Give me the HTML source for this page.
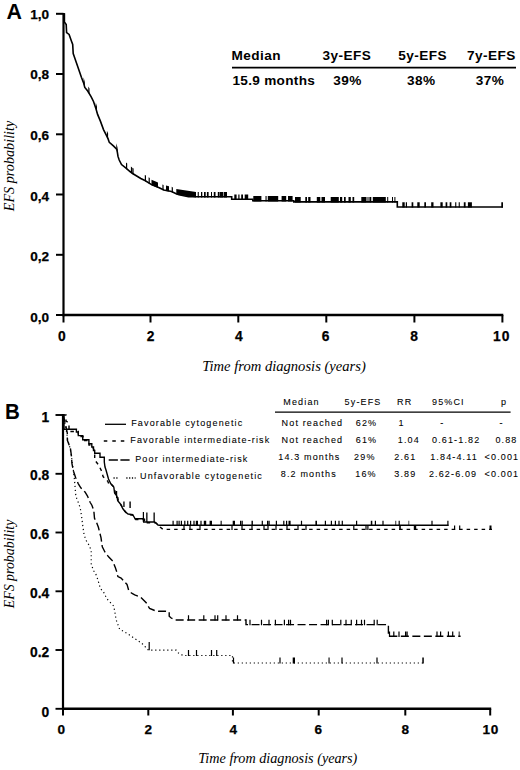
<!DOCTYPE html><html><head><meta charset="utf-8"><style>html,body{margin:0;padding:0;background:#fff;overflow:hidden}svg{display:block}.b{font-family:"Liberation Sans",sans-serif;font-weight:bold;fill:#000}.bs{stroke:#000;stroke-width:0.25px}.s{font-family:"Liberation Sans",sans-serif;fill:#000;stroke:#000;stroke-width:0.08px;font-size:9px;letter-spacing:1.15px}.i{font-family:"Liberation Serif",serif;font-style:italic;fill:#000}</style></head><body>
<svg width="520" height="770" viewBox="0 0 520 770">
<text class="b" x="6.6" y="18.5" font-size="21.4">A</text>
<path d="M63.5 13.0 V316.2" stroke="#000" stroke-width="2.2" fill="none"/>
<path d="M62.5 315.0 H503.3" stroke="#000" stroke-width="2.4" fill="none"/>
<path d="M56 13.8 H63.5" stroke="#000" stroke-width="2" fill="none"/>
<text class="b bs" x="49.2" y="19.0" font-size="13.6" text-anchor="end">1,0</text>
<path d="M56 74.0 H63.5" stroke="#000" stroke-width="2" fill="none"/>
<text class="b bs" x="49.2" y="78.9" font-size="13.6" text-anchor="end">0,8</text>
<path d="M56 134.3 H63.5" stroke="#000" stroke-width="2" fill="none"/>
<text class="b bs" x="49.2" y="140.0" font-size="13.6" text-anchor="end">0,6</text>
<path d="M56 194.5 H63.5" stroke="#000" stroke-width="2" fill="none"/>
<text class="b bs" x="49.2" y="200.5" font-size="13.6" text-anchor="end">0,4</text>
<path d="M56 254.8 H63.5" stroke="#000" stroke-width="2" fill="none"/>
<text class="b bs" x="49.2" y="260.7" font-size="13.6" text-anchor="end">0,2</text>
<path d="M56 315.0 H63.5" stroke="#000" stroke-width="2" fill="none"/>
<text class="b bs" x="49.2" y="321.6" font-size="13.6" text-anchor="end">0,0</text>
<path d="M63.5 315.0 V322.5" stroke="#000" stroke-width="2" fill="none"/>
<text class="b bs" x="61.8" y="340.6" font-size="13.8" text-anchor="middle" letter-spacing="0">0</text>
<path d="M150.5 315.0 V322.5" stroke="#000" stroke-width="2" fill="none"/>
<text class="b bs" x="150.5" y="340.6" font-size="13.8" text-anchor="middle" letter-spacing="0">2</text>
<path d="M238.3 315.0 V322.5" stroke="#000" stroke-width="2" fill="none"/>
<text class="b bs" x="238.9" y="340.6" font-size="13.8" text-anchor="middle" letter-spacing="0">4</text>
<path d="M326.3 315.0 V322.5" stroke="#000" stroke-width="2" fill="none"/>
<text class="b bs" x="325.5" y="340.6" font-size="13.8" text-anchor="middle" letter-spacing="0">6</text>
<path d="M414.4 315.0 V322.5" stroke="#000" stroke-width="2" fill="none"/>
<text class="b bs" x="414.2" y="340.6" font-size="13.8" text-anchor="middle" letter-spacing="0">8</text>
<path d="M502.4 315.0 V322.5" stroke="#000" stroke-width="2" fill="none"/>
<text class="b bs" x="501.8" y="340.6" font-size="13.8" text-anchor="middle" letter-spacing="1.0">10</text>
<text class="i" x="284" y="370.7" font-size="14.6" text-anchor="middle">Time from diagnosis (years)</text>
<text class="i" transform="translate(14.3 166) rotate(-90)" font-size="14.2" text-anchor="middle">EFS probability</text>
<text class="b" x="231.5" y="60.4" font-size="13.6" letter-spacing="0.45">Median</text>
<text class="b" x="322.5" y="60.4" font-size="13.6" letter-spacing="0.45">3y-EFS</text>
<text class="b" x="398.3" y="60.4" font-size="13.6" letter-spacing="0.45">5y-EFS</text>
<text class="b" x="467" y="60.4" font-size="13.6" letter-spacing="0.45">7y-EFS</text>
<path d="M232 67.7 H516" stroke="#000" stroke-width="1.7"/>
<text class="b" x="232.5" y="85" font-size="13.6" letter-spacing="0.3">15.9 months</text>
<text class="b" x="333.3" y="85" font-size="13.6" letter-spacing="0.45">39%</text>
<text class="b" x="407" y="85" font-size="13.6" letter-spacing="0.45">38%</text>
<text class="b" x="475.8" y="85" font-size="13.6" letter-spacing="0.45">37%</text>
<path d="M63.5 13.8 L64.4 14.0 L64.4 22.0 L66.2 24.5 L66.6 32.5 L69.1 34.5 L71.4 40.9 L72.7 44.5 L73.2 53.6 L74.5 57.3 L76.4 62.7 L77.7 66.4 L79.5 71.8 L81.4 77.3 L83.6 82.9 L84.8 87.5 L87.7 91.0 L91.2 96.9 L93.5 101.5 L95.9 108.5 L97.6 114.4 L100.5 121.4 L103.5 129.6 L106.4 135.4 L108.1 138.9 L109.3 142.4 L113.4 145.9 L116.9 149.4 L118.0 156.4 L119.2 160.0 L121.5 164.6 L125.4 167.7 L130.0 171.5 L133.0 173.8 L140.8 178.5 L145.4 180.8 L151.5 184.6 L159.2 187.7 L163.8 190.0 L171.5 191.5 L176.2 193.8 L179.0 194.8 L188.5 196.8 L231.7 196.8 L231.7 199.2 L252.8 199.2 L252.8 200.8 L293.8 200.8 L293.8 201.9 L397.3 201.9 L397.3 207.0 L503.0 207.0" stroke="#000" stroke-width="1.6" fill="none" stroke-linejoin="miter"/>
<path d="M83.6 77.3L84.8 81.9L84.8 88.1L83.6 83.5ZM88.3 86.4L89.5 88.4L89.5 94.6L88.3 92.6ZM95.8 102.6L97.0 106.7L97.0 112.9L95.8 108.8ZM106.9 130.8L108.1 133.3L108.1 139.5L106.9 137.0ZM116.3 143.2L117.5 147.6L117.5 153.8L116.3 149.4ZM126.0 162.6L127.2 163.6L127.2 169.8L126.0 168.8ZM130.9 166.6L132.1 167.5L132.1 173.7L130.9 172.8ZM132.4 167.7L133.6 168.6L133.6 174.8L132.4 173.9ZM144.8 174.9L146.0 175.6L146.0 181.8L144.8 181.1ZM148.6 177.2L149.8 177.9L149.8 184.1L148.6 183.4ZM151.5 179.8L158.0 182.4L158.0 187.8L151.5 185.2ZM162.4 184.5L163.6 185.1L163.6 190.5L162.4 189.9ZM166.0 185.6L169.0 186.2L169.0 191.6L166.0 191.0ZM171.7 186.8L172.9 187.4L172.9 192.8L171.7 192.2ZM176.3 189.0L196.0 192.0L196.0 197.4L176.3 194.4ZM197.7 192.0L198.8 192.0L198.8 197.4L197.7 197.4ZM201.0 192.0L202.3 192.0L202.3 197.4L201.0 197.4ZM204.0 192.0L205.7 192.0L205.7 197.4L204.0 197.4ZM206.9 192.0L208.6 192.0L208.6 197.4L206.9 197.4ZM211.0 192.0L212.0 192.0L212.0 197.4L211.0 197.4ZM213.8 192.0L215.5 192.0L215.5 197.4L213.8 197.4ZM217.8 192.0L219.6 192.0L219.6 197.4L217.8 197.4ZM220.0 192.0L223.0 192.0L223.0 197.4L220.0 197.4ZM223.6 192.0L227.0 192.0L227.0 197.4L223.6 197.4ZM234.3 194.4L236.6 194.4L236.6 199.8L234.3 199.8ZM238.3 194.4L239.5 194.4L239.5 199.8L238.3 199.8ZM241.2 194.4L243.0 194.4L243.0 199.8L241.2 199.8ZM244.7 194.4L248.2 194.4L248.2 199.8L244.7 199.8ZM253.3 196.0L261.4 196.0L261.4 201.4L253.3 201.4ZM265.5 196.0L266.6 196.0L266.6 201.4L265.5 201.4ZM267.8 196.0L278.2 196.0L278.2 201.4L267.8 201.4ZM281.6 196.0L286.2 196.0L286.2 201.4L281.6 201.4ZM288.0 196.0L292.6 196.0L292.6 201.4L288.0 201.4ZM295.0 197.1L300.7 197.1L300.7 202.5L295.0 202.5ZM305.3 197.1L307.0 197.1L307.0 202.5L305.3 202.5ZM308.2 197.1L310.5 197.1L310.5 202.5L308.2 202.5ZM316.8 197.1L320.3 197.1L320.3 202.5L316.8 202.5ZM321.5 197.1L325.0 197.1L325.0 202.5L321.5 202.5ZM330.7 197.1L338.8 197.1L338.8 202.5L330.7 202.5ZM340.0 197.1L342.2 197.1L342.2 202.5L340.0 202.5ZM344.0 197.1L345.7 197.1L345.7 202.5L344.0 202.5ZM348.5 197.1L350.8 197.1L350.8 202.5L348.5 202.5ZM352.5 197.1L354.2 197.1L354.2 202.5L352.5 202.5ZM361.3 197.1L366.5 197.1L366.5 202.5L361.3 202.5ZM367.5 197.1L368.5 197.1L368.5 202.5L367.5 202.5ZM369.4 197.1L371.3 197.1L371.3 202.5L369.4 202.5ZM372.8 197.1L385.8 197.1L385.8 202.5L372.8 202.5ZM387.2 197.1L388.2 197.1L388.2 202.5L387.2 202.5ZM392.0 197.1L393.0 197.1L393.0 202.5L392.0 202.5ZM394.4 197.1L395.4 197.1L395.4 202.5L394.4 202.5ZM402.3 202.2L404.7 202.2L404.7 207.6L402.3 207.6ZM405.8 202.2L407.0 202.2L407.0 207.6L405.8 207.6ZM411.6 202.2L413.3 202.2L413.3 207.6L411.6 207.6ZM417.3 202.2L419.7 202.2L419.7 207.6L417.3 207.6ZM424.3 202.2L426.0 202.2L426.0 207.6L424.3 207.6ZM431.2 202.2L433.5 202.2L433.5 207.6L431.2 207.6ZM440.4 202.2L442.7 202.2L442.7 207.6L440.4 207.6ZM445.6 202.2L447.3 202.2L447.3 207.6L445.6 207.6ZM449.7 202.2L451.4 202.2L451.4 207.6L449.7 207.6ZM455.2 202.2L456.3 202.2L456.3 207.6L455.2 207.6ZM458.7 202.2L459.8 202.2L459.8 207.6L458.7 207.6ZM463.8 202.2L465.6 202.2L465.6 207.6L463.8 207.6ZM467.9 202.2L471.9 202.2L471.9 207.6L467.9 207.6ZM501.3 202.2L503.0 202.2L503.0 207.6L501.3 207.6Z" fill="#000"/>
<text class="b" x="5.0" y="418.5" font-size="22" textLength="14.8" lengthAdjust="spacingAndGlyphs">B</text>
<path d="M63.0 414.0 V710.0" stroke="#000" stroke-width="2.2" fill="none"/>
<path d="M62.0 708.8 H491.2" stroke="#000" stroke-width="2.4" fill="none"/>
<path d="M55.5 415.0 H63.0" stroke="#000" stroke-width="1.9" fill="none"/>
<text class="b bs" x="49.2" y="421.5" font-size="13.8" text-anchor="end">1</text>
<path d="M55.5 473.8 H63.0" stroke="#000" stroke-width="1.9" fill="none"/>
<text class="b bs" x="49.2" y="480.3" font-size="13.8" text-anchor="end">0.8</text>
<path d="M55.5 532.5 H63.0" stroke="#000" stroke-width="1.9" fill="none"/>
<text class="b bs" x="49.2" y="539.3" font-size="13.8" text-anchor="end">0.6</text>
<path d="M55.5 591.3 H63.0" stroke="#000" stroke-width="1.9" fill="none"/>
<text class="b bs" x="49.2" y="598.1" font-size="13.8" text-anchor="end">0.4</text>
<path d="M55.5 650.0 H63.0" stroke="#000" stroke-width="1.9" fill="none"/>
<text class="b bs" x="49.2" y="656.8" font-size="13.8" text-anchor="end">0.2</text>
<path d="M55.5 708.8 H63.0" stroke="#000" stroke-width="1.9" fill="none"/>
<text class="b bs" x="49.2" y="716.7" font-size="13.8" text-anchor="end">0</text>
<path d="M63.0 708.8 V715.5" stroke="#000" stroke-width="2" fill="none"/>
<text class="b bs" x="61.2" y="733.7" font-size="13.6" text-anchor="middle" letter-spacing="0">0</text>
<path d="M148.3 708.8 V715.5" stroke="#000" stroke-width="2" fill="none"/>
<text class="b bs" x="148.4" y="733.7" font-size="13.6" text-anchor="middle" letter-spacing="0">2</text>
<path d="M232.9 708.8 V715.5" stroke="#000" stroke-width="2" fill="none"/>
<text class="b bs" x="233.4" y="733.7" font-size="13.6" text-anchor="middle" letter-spacing="0">4</text>
<path d="M318.7 708.8 V715.5" stroke="#000" stroke-width="2" fill="none"/>
<text class="b bs" x="318.3" y="733.7" font-size="13.6" text-anchor="middle" letter-spacing="0">6</text>
<path d="M405.3 708.8 V715.5" stroke="#000" stroke-width="2" fill="none"/>
<text class="b bs" x="405.2" y="733.7" font-size="13.6" text-anchor="middle" letter-spacing="0">8</text>
<path d="M490.2 708.8 V715.5" stroke="#000" stroke-width="2" fill="none"/>
<text class="b bs" x="490.8" y="733.7" font-size="13.6" text-anchor="middle" letter-spacing="0.8">10</text>
<text class="i" x="277.8" y="763.2" font-size="14.2" text-anchor="middle">Time from diagnosis (years)</text>
<text class="i" transform="translate(14.3 564) rotate(-90)" font-size="13.9" text-anchor="middle">EFS probability</text>
<path d="M105 424.3 H126" stroke="#000" stroke-width="1.3"/>
<text class="s" x="131.2" y="426.0">Favorable cytogenetic</text>
<path d="M103.8 441.0 H126" stroke="#000" stroke-width="1.3" stroke-dasharray="3.5 5"/>
<text class="s" x="130.3" y="442.8">Favorable intermediate-risk</text>
<path d="M108.7 460.0 H130.3" stroke="#000" stroke-width="1.3" stroke-dasharray="9.2 2.5"/>
<text class="s" x="135.2" y="461.8">Poor intermediate-risk</text>
<path d="M113.5 478.0 H119 M126.3 478.0 H135.6" stroke="#000" stroke-width="1.3" stroke-dasharray="1.2 1.6"/>
<text class="s" x="140.0" y="478.8">Unfavorable cytogenetic</text>
<text class="s" x="283.3" y="404.5">Median</text>
<text class="s" x="344.6" y="404.5">5y-EFS</text>
<text class="s" x="397" y="404.5">RR</text>
<text class="s" x="432" y="404.5">95%CI</text>
<text class="s" x="501" y="404.5">p</text>
<text class="s" x="281.6" y="426.2">Not reached</text>
<text class="s" x="355.8" y="426.2">62%</text>
<text class="s" x="398.5" y="426.2">1</text>
<text class="s" x="440.3" y="426.2">-</text>
<text class="s" x="499.5" y="426.2">-</text>
<text class="s" x="281.6" y="442.6">Not reached</text>
<text class="s" x="355.8" y="442.6">61%</text>
<text class="s" x="397.8" y="442.6">1.04</text>
<text class="s" x="432" y="442.6">0.61-1.82</text>
<text class="s" x="495.4" y="442.6">0.88</text>
<text class="s" x="278.3" y="460.0">14.3 months</text>
<text class="s" x="354.1" y="460.0">29%</text>
<text class="s" x="394.3" y="460.0">2.61</text>
<text class="s" x="430.2" y="460.0">1.84-4.11</text>
<text class="s" x="484.6" y="460.0">&lt;0.001</text>
<text class="s" x="280.8" y="477.0">8.2 months</text>
<text class="s" x="355.3" y="477.0">16%</text>
<text class="s" x="394.3" y="477.0">3.89</text>
<text class="s" x="428.9" y="477.0">2.62-6.09</text>
<text class="s" x="484.6" y="477.0">&lt;0.001</text>
<path d="M275 412.2 H510.6" stroke="#000" stroke-width="1.3"/>
<path d="M63.0 415.0 L64.0 415.0 L64.0 429.3 L76.4 429.3 L76.4 432.0 L78.3 432.0 L78.3 435.6 L82.7 435.6 L82.7 439.7 L88.9 439.7 L88.9 443.7 L91.8 443.7 L91.8 447.0 L93.5 447.0 L93.5 450.5 L94.7 450.5 L94.7 453.3 L100.0 453.3 L100.0 457.2 L104.3 457.2 L104.3 462.0 L105.0 467.0 L106.0 470.0 L108.5 479.0 L110.8 483.8 L113.8 487.0 L114.6 493.0 L116.9 496.2 L117.7 500.8 L120.0 503.5 L121.7 506.5 L122.9 508.8 L125.2 511.7 L128.1 514.0 L132.7 514.6 L134.4 517.5 L135.0 518.7 L143.7 518.7 L143.7 522.0 L154.6 522.0 L155.8 522.7 L158.0 525.0 L159.8 525.3 L448.5 525.3" stroke="#000" stroke-width="1.4" fill="none"/>
<path d="M63.0 415.0 L66.0 415.0 L66.0 421.0 L69.0 423.0 L69.0 431.5 L78.3 431.5 L78.3 436.5 L83.0 436.5 L83.0 440.5 L89.0 440.5 L89.0 445.0 L92.0 445.0 L94.7 452.0 L94.7 460.0 L98.4 464.7 L101.6 471.0 L103.1 476.6 L107.8 481.3 L109.4 485.5 L111.6 484.6 L114.6 487.8 L115.4 493.8 L117.7 497.0 L118.5 501.6 L120.8 504.3 L122.5 507.3 L123.7 509.6 L126.0 512.5 L128.9 514.8 L133.5 515.4 L135.2 518.3 L135.8 519.5 L144.5 519.5 L144.5 522.8 L155.4 522.8 L156.6 523.5 L160.0 527.0 L163.0 529.4 L492.0 529.4" stroke="#000" stroke-width="1.4" fill="none" stroke-dasharray="3.5 4"/>
<path d="M63.0 415.0 L65.0 422.0 L67.3 433.0 L67.3 440.0 L70.4 448.3 L71.4 455.6 L72.0 463.9 L73.5 471.2 L75.6 477.4 L78.2 483.6 L80.8 487.8 L85.0 492.0 L87.5 496.1 L90.1 502.3 L91.9 505.2 L93.8 510.4 L94.5 518.2 L96.4 522.0 L98.4 527.3 L99.7 532.5 L101.0 537.7 L102.3 546.8 L104.9 552.0 L108.8 557.1 L112.7 561.0 L115.3 567.5 L116.6 571.4 L117.9 576.6 L121.1 578.0 L124.4 581.8 L127.0 584.4 L128.9 591.0 L132.1 593.5 L134.7 594.8 L140.4 597.0 L146.2 602.7 L149.6 608.5 L155.4 610.8 L158.7 611.3 L165.4 611.3 L169.2 612.0 L169.2 616.2 L171.2 618.0 L175.0 620.0 L246.0 620.0 L246.0 624.6 L388.4 624.6 L388.4 636.3 L460.6 636.3" stroke="#000" stroke-width="1.4" fill="none" stroke-dasharray="8 3.5"/>
<path d="M63.0 415.0 L64.0 420.0 L66.0 428.0 L67.0 435.0 L68.0 441.0 L70.0 448.0 L71.4 455.6 L72.3 463.9 L73.5 471.2 L74.5 480.0 L75.6 494.0 L76.6 498.2 L78.2 502.3 L80.2 507.8 L81.5 515.6 L82.8 526.0 L84.1 535.0 L86.7 541.6 L89.3 545.5 L91.2 550.6 L91.2 563.6 L93.2 570.1 L95.8 574.0 L97.7 579.2 L100.3 588.3 L103.6 592.2 L106.8 598.7 L113.8 606.2 L116.2 620.0 L119.6 629.2 L127.7 633.8 L134.6 638.5 L141.5 643.0 L148.5 650.2 L176.2 650.2 L178.5 653.0 L183.0 655.5 L232.5 655.5 L232.5 663.0 L424.2 663.0" stroke="#000" stroke-width="1.2" fill="none" stroke-dasharray="1.2 2.8"/>
<path d="M116.0 491.0H117.2V497.9H116.0ZM142.8 512.0H144.0V522.0H142.8ZM146.2 512.5H147.5V522.0H146.2ZM153.5 512.5H154.8V522.1H153.5ZM172.5 520.8L173.7 520.8L173.7 525.9L172.5 525.9ZM176.5 520.8L177.7 520.8L177.7 525.9L176.5 525.9ZM178.5 520.8L179.7 520.8L179.7 525.9L178.5 525.9ZM180.8 520.8L182.0 520.8L182.0 525.9L180.8 525.9ZM184.2 520.8L185.4 520.8L185.4 525.9L184.2 525.9ZM187.1 520.8L188.3 520.8L188.3 525.9L187.1 525.9ZM190.0 520.8L191.2 520.8L191.2 525.9L190.0 525.9ZM193.4 520.8L194.6 520.8L194.6 525.9L193.4 525.9ZM195.8 520.8L198.0 520.8L198.0 525.9L195.8 525.9ZM200.4 520.8L201.6 520.8L201.6 525.9L200.4 525.9ZM203.8 520.8L206.2 520.8L206.2 525.9L203.8 525.9ZM209.6 520.8L212.0 520.8L212.0 525.9L209.6 525.9ZM220.6 520.8L221.7 520.8L221.7 525.9L220.6 525.9ZM232.7 520.8L235.0 520.8L235.0 525.9L232.7 525.9ZM240.0 520.8L241.2 520.8L241.2 525.9L240.0 525.9ZM241.6 520.8L242.8 520.8L242.8 525.9L241.6 525.9ZM251.5 520.8L252.9 520.8L252.9 525.9L251.5 525.9ZM261.7 520.8L262.9 520.8L262.9 525.9L261.7 525.9ZM267.0 520.8L268.2 520.8L268.2 525.9L267.0 525.9ZM268.5 520.8L269.7 520.8L269.7 525.9L268.5 525.9ZM275.8 520.8L277.0 520.8L277.0 525.9L275.8 525.9ZM283.2 520.8L284.4 520.8L284.4 525.9L283.2 525.9ZM286.0 520.8L287.2 520.8L287.2 525.9L286.0 525.9ZM288.5 520.8L290.6 520.8L290.6 525.9L288.5 525.9ZM300.9 520.8L302.1 520.8L302.1 525.9L300.9 525.9ZM315.4 520.8L317.0 520.8L317.0 525.9L315.4 525.9ZM324.8 520.8L326.0 520.8L326.0 525.9L324.8 525.9ZM330.8 520.8L332.0 520.8L332.0 525.9L330.8 525.9ZM334.8 520.8L336.0 520.8L336.0 525.9L334.8 525.9ZM338.4 520.8L339.6 520.8L339.6 525.9L338.4 525.9ZM341.7 520.8L342.9 520.8L342.9 525.9L341.7 525.9ZM356.0 520.8L357.2 520.8L357.2 525.9L356.0 525.9ZM370.8 520.8L372.3 520.8L372.3 525.9L370.8 525.9ZM374.8 520.8L376.0 520.8L376.0 525.9L374.8 525.9ZM382.4 520.8L383.6 520.8L383.6 525.9L382.4 525.9ZM395.4 520.8L396.2 520.8L396.2 525.9L395.4 525.9ZM398.6 520.8L399.8 520.8L399.8 525.9L398.6 525.9ZM408.5 520.8L409.2 520.8L409.2 525.9L408.5 525.9ZM431.4 520.8L432.6 520.8L432.6 525.9L431.4 525.9ZM447.3 520.8L448.5 520.8L448.5 525.9L447.3 525.9Z" fill="#000"/>
<path d="M123.3 501.5H124.6V507H123.3Z M129.4 501.5H130.8V508H129.4Z" fill="#000"/>
<path d="M183.4 525.4L184.6 525.4L184.6 530.0L183.4 530.0ZM189.4 525.4L190.6 525.4L190.6 530.0L189.4 530.0ZM199.4 525.4L200.6 525.4L200.6 530.0L199.4 530.0ZM231.4 525.4L232.6 525.4L232.6 530.0L231.4 530.0ZM241.4 525.4L242.6 525.4L242.6 530.0L241.4 530.0ZM251.4 525.4L252.6 525.4L252.6 530.0L251.4 530.0ZM263.4 525.4L264.6 525.4L264.6 530.0L263.4 530.0ZM267.4 525.4L268.6 525.4L268.6 530.0L267.4 530.0ZM275.4 525.4L276.6 525.4L276.6 530.0L275.4 530.0ZM286.4 525.4L287.6 525.4L287.6 530.0L286.4 530.0ZM297.4 525.4L298.6 525.4L298.6 530.0L297.4 530.0ZM305.4 525.4L306.6 525.4L306.6 530.0L305.4 530.0ZM353.2 525.4L354.4 525.4L354.4 530.0L353.2 530.0ZM365.4 525.4L366.6 525.4L366.6 530.0L365.4 530.0ZM367.3 525.4L368.5 525.4L368.5 530.0L367.3 530.0ZM399.2 525.4L400.8 525.4L400.8 530.0L399.2 530.0ZM413.8 525.4L416.2 525.4L416.2 530.0L413.8 530.0ZM454.0 525.4L455.2 525.4L455.2 530.0L454.0 530.0ZM459.1 525.4L460.3 525.4L460.3 530.0L459.1 530.0ZM489.5 525.4L491.5 525.4L491.5 530.0L489.5 530.0Z" fill="#000"/>
<path d="M187.9 615.2L189.1 615.2L189.1 620.6L187.9 620.6ZM203.2 615.2L204.4 615.2L204.4 620.6L203.2 620.6ZM214.4 615.2L215.6 615.2L215.6 620.6L214.4 620.6ZM217.1 615.2L218.3 615.2L218.3 620.6L217.1 620.6ZM225.4 615.2L226.6 615.2L226.6 620.6L225.4 620.6ZM236.9 615.2L238.1 615.2L238.1 620.6L236.9 620.6ZM249.4 619.8L250.6 619.8L250.6 625.2L249.4 625.2ZM260.9 619.8L262.1 619.8L262.1 625.2L260.9 625.2ZM268.4 619.8L269.6 619.8L269.6 625.2L268.4 625.2ZM274.8 619.8L276.0 619.8L276.0 625.2L274.8 625.2ZM283.8 619.8L285.0 619.8L285.0 625.2L283.8 625.2ZM288.0 619.8L289.2 619.8L289.2 625.2L288.0 625.2ZM289.9 619.8L291.1 619.8L291.1 625.2L289.9 625.2ZM326.0 619.8L327.2 619.8L327.2 625.2L326.0 625.2ZM327.8 619.8L329.0 619.8L329.0 625.2L327.8 625.2ZM331.7 619.8L332.9 619.8L332.9 625.2L331.7 625.2ZM340.2 619.8L341.4 619.8L341.4 625.2L340.2 625.2ZM345.4 619.8L346.6 619.8L346.6 625.2L345.4 625.2ZM350.7 619.8L351.9 619.8L351.9 625.2L350.7 625.2ZM356.0 619.8L357.2 619.8L357.2 625.2L356.0 625.2ZM360.9 619.8L362.1 619.8L362.1 625.2L360.9 625.2ZM363.9 619.8L365.1 619.8L365.1 625.2L363.9 625.2ZM373.6 619.8L374.8 619.8L374.8 625.2L373.6 625.2ZM376.6 619.8L377.8 619.8L377.8 625.2L376.6 625.2ZM388.9 631.5L390.1 631.5L390.1 636.9L388.9 636.9ZM393.2 631.5L394.4 631.5L394.4 636.9L393.2 636.9ZM398.4 631.5L399.6 631.5L399.6 636.9L398.4 636.9ZM405.0 631.5L406.2 631.5L406.2 636.9L405.0 636.9ZM406.5 631.5L407.7 631.5L407.7 636.9L406.5 636.9ZM436.4 631.5L437.6 631.5L437.6 636.9L436.4 636.9ZM440.0 631.5L441.2 631.5L441.2 636.9L440.0 636.9ZM447.8 631.5L449.0 631.5L449.0 636.9L447.8 636.9ZM452.1 631.5L453.3 631.5L453.3 636.9L452.1 636.9ZM458.7 631.5L459.6 631.5L459.6 636.9L458.7 636.9Z" fill="#000"/>
<path d="M148.6 642.0H149.8V650.2H148.6ZM187.9 650.0L189.1 650.0L189.1 656.1L187.9 656.1ZM195.9 650.0L197.1 650.0L197.1 656.1L195.9 656.1ZM210.9 650.0L212.1 650.0L212.1 656.1L210.9 656.1ZM216.1 650.0L217.3 650.0L217.3 656.1L216.1 656.1ZM232.9 657.5L234.1 657.5L234.1 663.6L232.9 663.6ZM279.4 657.5L280.6 657.5L280.6 663.6L279.4 663.6ZM292.7 657.5L295.0 657.5L295.0 663.6L292.7 663.6ZM328.5 657.5L329.6 657.5L329.6 663.6L328.5 663.6ZM341.4 657.5L342.6 657.5L342.6 663.6L341.4 663.6ZM376.4 657.5L377.6 657.5L377.6 663.6L376.4 663.6ZM422.3 657.5L423.8 657.5L423.8 663.6L422.3 663.6Z" fill="#000"/>
</svg></body></html>
